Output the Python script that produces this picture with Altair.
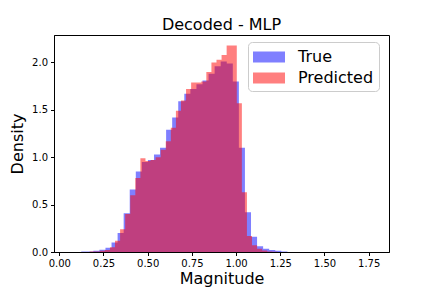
import altair as alt
import pandas as pd

# Histogram of the true magnitudes (density per bin)
true_start = 0.124
true_width = 0.0343
true_density = [0.006, 0.006, 0.012, 0.025, 0.045, 0.10, 0.20, 0.41, 0.66, 0.85,
                0.95, 0.97, 1.03, 1.10, 1.29, 1.42, 1.59, 1.67, 1.72, 1.77,
                1.81, 1.88, 1.96, 2.01, 1.99, 1.80, 1.10, 0.42, 0.16, 0.06,
                0.035, 0.02, 0.012, 0.005]

# Histogram of the predicted magnitudes (density per bin)
pred_start = 0.1717
pred_width = 0.0287
pred_density = [0.004, 0.006, 0.012, 0.022, 0.05, 0.12, 0.24, 0.40, 0.60, 0.78,
                0.99, 0.96, 0.97, 1.00, 1.08, 1.17, 1.31, 1.49, 1.60, 1.72,
                1.79, 1.79, 1.80, 1.90, 2.00, 2.03, 2.08, 2.18, 2.18, 1.57,
                0.63, 0.17, 0.07, 0.035, 0.015, 0.006, 0.003]

series_names = ["True", "Predicted"]
series_colors = ["blue", "red"]
x_ticks = [0.0, 0.25, 0.5, 0.75, 1.0, 1.25, 1.5, 1.75]
y_ticks = [0.0, 0.5, 1.0, 1.5, 2.0]


def hist_frame(start, width, dens, name):
    # step outline: each bin's left edge with its density, closed at the last edge
    rows = []
    for i, d in enumerate(dens):
        rows.append({"edge": start + i * width, "density": d, "series": name})
    rows.append({"edge": start + len(dens) * width, "density": 0.0, "series": name})
    return pd.DataFrame(rows)


df_true = hist_frame(true_start, true_width, true_density, "True")
df_pred = hist_frame(pred_start, pred_width, pred_density, "Predicted")

color = alt.Color(
    "series:N",
    scale=alt.Scale(domain=series_names, range=series_colors),
    legend=alt.Legend(
        title=None, orient="none", legendX=194, legendY=7,
        symbolType="M-1,-0.55H2.2V0.55H-1Z", symbolSize=400,
        symbolOpacity=0.5, symbolStrokeWidth=0,
        labelFontSize=16, labelFont="DejaVu Sans", labelColor="black",
        labelOffset=25, rowPadding=3, padding=5,
        strokeColor="#cccccc", cornerRadius=4, fillColor="white",
    ),
)

x = alt.X("edge:Q", scale=alt.Scale(domain=[-0.03, 1.865], nice=False, zero=False),
          axis=alt.Axis(values=x_ticks, format=".2f", title="Magnitude"))
y = alt.Y("density:Q", scale=alt.Scale(domain=[0, 2.29], nice=False),
          stack=None,
          axis=alt.Axis(values=y_ticks, format=".1f", title="Density",
                        titlePadding=6))


def bars(df):
    return alt.Chart(df).mark_area(opacity=0.5, interpolate="step-after").encode(
        x=x, y=y, color=color
    )


chart = alt.layer(bars(df_true), bars(df_pred)).properties(
    width=335, height=217,
    title=alt.TitleParams("Decoded - MLP", fontSize=16, font="DejaVu Sans",
                          fontWeight="normal", anchor="middle", offset=2,
                          color="black"),
    autosize=alt.AutoSizeParams(type="none"),
    padding={"left": 46, "top": 27, "right": 35, "bottom": 36},
).configure(font="DejaVu Sans").configure_view(
    stroke="black", strokeWidth=1
).configure_axis(
    grid=False, domainColor="black", tickColor="black", labelColor="black",
    titleColor="black", labelFontSize=10, titleFontSize=16,
    titleFontWeight="normal", tickSize=3.5, labelFont="DejaVu Sans",
    titleFont="DejaVu Sans", labelPadding=3, titlePadding=2,
)

chart.save("out.html", embed_options={"renderer": "svg", "actions": False})
